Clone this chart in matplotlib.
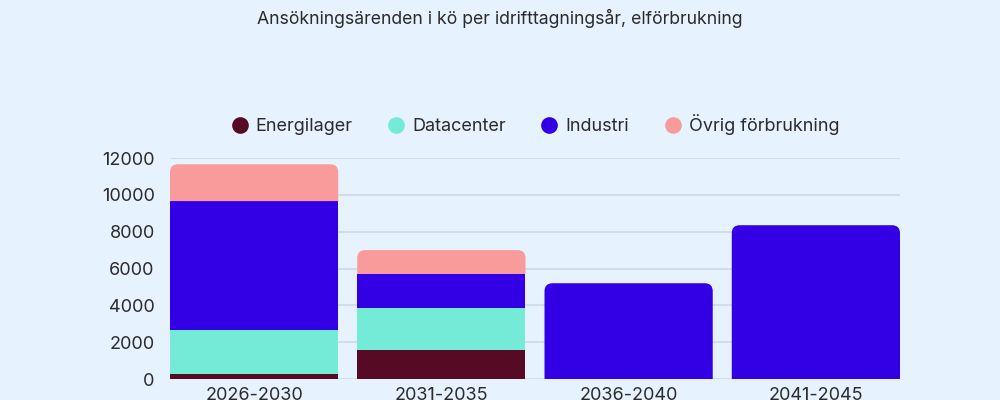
import matplotlib.pyplot as plt
from matplotlib.patches import PathPatch, Rectangle
from matplotlib.path import Path
from matplotlib.lines import Line2D

plt.rcParams['font.family'] = ['Inter', 'DejaVu Sans']

categories = ['2026-2030', '2031-2035', '2036-2040', '2041-2045']
series = ['Energilager', 'Datacenter', 'Industri', 'Övrig förbrukning']
energilager = [270, 1600, 0, 0]
datacenter = [2390, 2250, 0, 0]
industri = [7000, 1850, 5200, 8350]
ovrig = [2000, 1300, 0, 0]
colors = ['#570a24', '#73ebd6', '#3300e6', '#fa9b9b']
yticks = [0, 2000, 4000, 6000, 8000, 10000, 12000]

bg = '#e6f2fd'
fig = plt.figure(figsize=(10, 4), dpi=100, facecolor=bg)
ax = fig.add_axes([0.170, 0.0525, 0.730, 0.5525], facecolor=bg)

width = 168 / 187
values = [energilager, datacenter, industri, ovrig]
ax.set_xlim(-width / 2, len(categories) - 1 + width / 2)
ax.set_ylim(0, 12000)

# corner radius in data units (about 8 px)
rx = 8 / 187
ry = 8 * 12000 / 221


def top_rounded(x0, y0, w, h, c):
    x1, y1 = x0 + w, y0 + h
    verts = [(x0, y0), (x1, y0), (x1, y1 - ry), (x1, y1), (x1 - rx, y1),
             (x0 + rx, y1), (x0, y1), (x0, y1 - ry), (x0, y0)]
    codes = [Path.MOVETO, Path.LINETO, Path.LINETO, Path.CURVE3, Path.CURVE3,
             Path.LINETO, Path.CURVE3, Path.CURVE3, Path.CLOSEPOLY]
    ax.add_patch(PathPatch(Path(verts, codes), fc=c, ec='none', zorder=3))


for i in range(len(categories)):
    bottom = 0
    segs = [(v[i], c) for v, c in zip(values, colors) if v[i] > 0]
    for k, (h, c) in enumerate(segs):
        x0 = i - width / 2
        if k == len(segs) - 1:
            top_rounded(x0, bottom, width, h, c)
        else:
            ax.add_patch(Rectangle((x0, bottom), width, h,
                                   fc=c, ec='none', zorder=3))
        bottom += h

ax.set_yticks(yticks)
ax.set_xticks(range(len(categories)))
ax.set_xticklabels(categories)
ax.grid(axis='y', color='#d3dde6', linewidth=1.5, zorder=0)
for s in ax.spines.values():
    s.set_visible(False)
ax.tick_params(length=0, labelsize=13, labelcolor='#2b2b2b')
ax.tick_params(axis='y', pad=11)
ax.tick_params(axis='x', pad=6)

fig.text(0.5, 0.955, 'Ansökningsärenden i kö per idrifttagningsår, elförbrukning',
         ha='center', va='center', fontsize=12.7, color='#2b2b2b')

handles = [Line2D([], [], marker='o', ls='none', markersize=12,
                  markerfacecolor=c, markeredgecolor='none') for c in colors]
fig.legend(handles, series, loc='center', bbox_to_anchor=(0.535, 0.688), ncol=4,
           frameon=False, fontsize=13, handlelength=1.0, handletextpad=0.4,
           columnspacing=1.9, labelcolor='#2b2b2b')

plt.savefig('out.png', facecolor=bg)
